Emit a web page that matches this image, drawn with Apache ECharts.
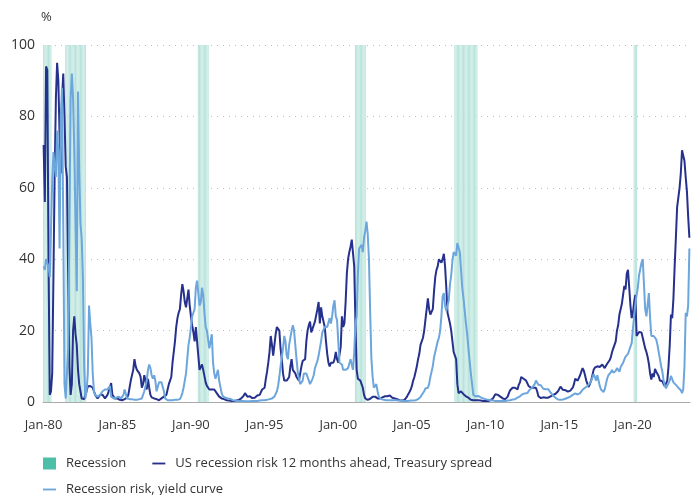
<!DOCTYPE html>
<html>
<head>
<meta charset="utf-8">
<script src="https://cdn.jsdelivr.net/npm/echarts@6/dist/echarts.min.js"></script>
<style>
  html, body { margin: 0; padding: 0; background: #fff; }
  #main { width: 691px; height: 495px; }
</style>
</head>
<body>
<div id="main"></div>
<script>
// monthly series, Jan 1980 onwards (one line per year)
var spreadRisk = [
  72, 56, 94, 93, 40, 2, 3, 8, 35, 64, 85, 95,
  90, 75, 64, 85, 92, 80, 66, 63, 35, 10, 2, 5,
  20, 24, 19, 16, 9, 5, 3, 1, 0.5, 0.8, 2, 3,
  4.4, 4, 4.5, 4, 4, 3, 2, 1.5, 1, 1.5, 2, 2.5,
  2, 1.5, 1, 1.5, 2, 3, 4, 5.3, 2, 1.5, 1, 1,
  1, 0.8, 0.6, 0.5, 0.5, 0.6, 0.8, 1, 1.2, 2, 4, 6,
  6, 9, 12, 10, 9, 8.5, 8, 7, 4, 5, 7.5, 6,
  3.5, 6.5, 4, 2, 1.3, 1, 1, 0.8, 0.8, 0.6, 0.5, 0.6,
  1, 1, 1.5, 2, 2, 3.5, 5, 6, 7, 11, 14, 17,
  21, 23.5, 25, 26, 30, 33, 31, 28, 26.5, 29, 31.5, 27,
  24, 21.5, 19.5, 17, 21, 17, 13, 9, 9.5, 10.5, 9, 9,
  5.5, 4.5, 4.4, 3.5, 4, 3.5, 3, 3.5, 3, 2.5, 2, 1.5,
  1.2, 1, 1, 0.8, 0.6, 0.5, 0.5, 0.4, 0.4, 0.3, 0.3, 0.3,
  0.3, 0.4, 0.5, 0.6, 0.8, 1, 1.3, 1.8, 2.5, 2, 1.5, 1.4,
  1.6, 1.3, 1.1, 1, 1.2, 1.6, 1.8, 1.9, 2, 2.5, 3.5, 4,
  4, 6.5, 8.5, 11, 14, 18.5, 16, 13, 16, 19, 21, 21,
  20, 15, 12, 8, 6, 5.8, 6, 6.5, 7, 10, 12, 9,
  8.5, 8, 7, 6.5, 6, 6.5, 10, 11.5, 11, 12, 17, 20,
  21.5, 22.5, 19.5, 20.5, 21.5, 22.5, 23, 26, 28, 22, 26.5, 24,
  24, 21, 17, 13.5, 11, 10, 11, 11, 11, 12, 14, 12,
  11, 10.5, 15.5, 24, 21, 22, 28, 36, 40, 42, 43.5, 45.5,
  46, 38, 22, 9, 6.5, 6, 6, 5.5, 4, 2, 1, 0.8,
  0.6, 0.7, 0.9, 1.2, 1.5, 1.8, 1.5, 1.3, 1, 0.9, 1, 1.2,
  1.3, 1.5, 1.6, 1.8, 1.6, 2, 1.8, 1.4, 1.2, 1, 1, 0.9,
  0.8, 0.6, 0.5, 0.4, 0.4, 0.4, 0.6, 0.9, 1.5, 2.2, 2.8, 3.5,
  4.5, 6, 7, 8.5, 10, 12, 13.5, 16, 17, 18, 20, 23,
  26, 29, 26, 24.5, 25, 26, 31, 35, 37, 38, 40, 40.5,
  39, 40, 41.5, 38, 32, 25, 23.5, 22, 20, 17, 14, 13,
  12, 5, 2.5, 2.8, 3, 2.5, 2.2, 2, 1.6, 1.5, 1.2, 0.8,
  0.6, 0.5, 0.5, 0.5, 0.5, 0.5, 0.5, 0.4, 0.4, 0.4, 0.3, 0.3,
  0.3, 0.3, 0.3, 0.4, 0.5, 0.7, 1, 1.6, 2.2, 2.5, 2, 1.5,
  1.5, 1.5, 1, 0.8, 0.8, 1, 1.5, 2.5, 3.3, 3.5, 4, 4.2,
  4, 4.4, 3.5, 4.8, 5.5, 7, 7.5, 6.5, 6.2, 6, 5.5, 4.5,
  5, 4, 4, 4, 4.4, 4, 3, 1.6, 1.2, 1.1, 1.2, 1.3,
  1.2, 1.2, 1.1, 1.2, 1.4, 1.6, 1.8, 2, 2.1, 2.3, 2.5, 3,
  3.5, 4.3, 4, 3.4, 3.8, 3.3, 3, 2.9, 3, 3.2, 3.5, 4,
  5, 6.5, 6, 6, 6.2, 7.5, 8.5, 9.5, 8.8, 7.5, 6, 5,
  4.2, 4.5, 6, 7.5, 9, 9.6, 9.8, 10, 9.5, 9.8, 10.2, 10.5,
  10.5, 9.5, 10, 10.7, 11, 11.7, 12.5, 14, 15, 16, 17, 20,
  21.5, 24.5, 26, 27.5, 30, 32.5, 31.5, 36, 37, 32, 27, 23.5,
  25, 28, 30, 18.5, 19, 19.6, 19.5, 19.5, 18, 16.5, 15, 14,
  12.6, 10.7, 8, 6.3, 8, 7, 9.3, 8.5, 8, 7.2, 6, 6,
  5.8, 5, 4.4, 4.5, 6, 10, 16, 24.5, 23.5, 29, 38, 46,
  54.5, 55, 60, 64, 70.5, 70, 67.5, 63, 59, 52, 46
];

var curveRisk = [
  38, 37, 40, 39, 38, 35, 48, 62, 70, 66, 63, 76,
  70, 43, 80, 88, 50, 5, 1, 1.5, 15, 50, 85, 92,
  85, 70, 50, 31, 87, 65, 50, 46, 35, 10, 1, 3,
  8, 27, 22, 18, 8, 3, 2, 1.5, 1.5, 2, 2, 2.5,
  3, 3, 3.5, 3, 3.5, 4, 4.5, 1.5, 1, 1, 1, 1.2,
  1, 1.5, 1, 1, 1, 2, 3.5, 4, 1, 0.8, 0.8, 1,
  0.8, 0.7, 0.6, 0.6, 0.6, 0.7, 0.8, 0.8, 1, 2, 3, 4.5,
  6, 9, 10.5, 9.5, 7.5, 6.5, 7.5, 6, 3, 3.5, 5.5, 5.8,
  5.5, 5.3, 3, 1, 0.6, 0.5, 0.5, 0.5, 0.5, 0.5, 0.5, 0.6,
  0.6, 0.6, 0.6, 0.8, 1.5, 2.5, 4, 6, 8, 12, 16, 18,
  21, 24, 25, 26, 32, 34, 34, 27, 28, 32, 30, 25,
  21, 20, 20, 15, 17, 19, 11, 8, 6.5, 6, 9, 6,
  4.2, 2.5, 1.6, 1.4, 1.2, 1, 1, 1, 0.9, 0.7, 0.5, 0.4,
  0.4, 0.4, 0.3, 0.3, 0.3, 0.3, 0.3, 0.2, 0.2, 0.2, 0.2, 0.2,
  0.2, 0.2, 0.3, 0.3, 0.3, 0.3, 0.3, 0.4, 0.4, 0.4, 0.5, 0.5,
  0.5, 0.6, 0.6, 0.7, 0.8, 0.9, 1, 1.1, 1.5, 2, 3, 4.5,
  7, 10, 12.5, 15, 18.5, 17, 13, 12, 16, 16.5, 20, 21.5,
  20, 16, 12, 8.5, 6.5, 5, 5.3, 6, 8, 8.5, 8, 7,
  6.5, 5, 5, 6.5, 7.5, 9.5, 10.5, 11.5, 13, 15, 17, 19.5,
  20, 21, 21, 21, 21, 23.5, 22, 24, 27, 28.5, 24, 23,
  17, 11, 11, 10.5, 9, 9, 9, 9.5, 9.5, 10, 12, 11.5,
  9, 14, 22, 24, 36, 43, 43.5, 44, 42, 46, 48, 50.5,
  47, 40, 25, 12, 7, 4, 4, 5, 3, 1.5, 1, 0.8,
  0.6, 0.6, 0.5, 0.5, 0.5, 0.5, 0.5, 0.5, 0.6, 0.5, 0.5, 0.5,
  0.4, 0.4, 0.4, 0.4, 0.3, 0.3, 0.3, 0.3, 0.3, 0.3, 0.3, 0.4,
  0.4, 0.4, 0.5, 0.5, 0.6, 0.8, 1, 1.4, 2, 2.5, 3, 3.8,
  3.5, 4, 5, 7, 8.5, 10, 12.5, 14, 15.5, 17, 18, 20,
  24, 29.5, 30.5, 27, 25.5, 26, 28.5, 33, 35.5, 39.5, 42, 42.5,
  41, 44.5, 45, 42, 37, 32, 29, 25.5, 22, 19, 15, 11.5,
  8, 5, 2, 1.8, 1.6, 1.8, 1.7, 1.5, 1.3, 1.2, 1, 1,
  0.8, 0.7, 0.6, 0.5, 0.5, 0.4, 0.4, 0.3, 0.3, 0.3, 0.3, 0.3,
  0.3, 0.3, 0.3, 0.3, 0.3, 0.3, 0.4, 0.4, 0.5, 0.6, 0.7, 0.8,
  0.8, 1, 1.2, 1.4, 1.6, 1.8, 2.2, 2.5, 2.4, 2.2, 2.5, 3,
  3.5, 3.8, 4, 4.5, 5, 6, 5.5, 4.8, 4.4, 4.7, 4.2, 3.7,
  3.4, 3.6, 3.8, 3.6, 3.2, 2.6, 2.2, 1.8, 1.5, 1.2, 0.9, 0.7,
  0.6, 0.6, 0.6, 0.7, 0.8, 0.9, 1, 1.2, 1.3, 1.5, 1.7, 2,
  2.2, 2.4, 2.3, 2.1, 2, 2.5, 3, 3.4, 3.6, 4, 4.3, 4.5,
  5, 5.3, 6, 6.8, 7.8, 7, 6, 7.5, 6, 4.5, 3.5, 3,
  2.8, 3.5, 5, 6.5, 7.5, 8, 8.3, 9, 8.2, 8.3, 8.7, 9.5,
  9, 8.5, 9.8, 9.5, 11, 11.5, 12.7, 13, 13.5, 14.5, 15.5, 16.5,
  20.5, 24, 27.5, 30, 32, 35.5, 35, 39, 40, 33, 26, 24,
  24, 30.5, 23.5, 18.5, 18, 18.5, 19, 17.5, 16, 14, 12, 10,
  8.5, 6, 4.5, 3.8, 4.6, 5, 6, 7.3, 7, 5.5, 5, 4.8,
  4.3, 4, 3.8, 3.3, 2.5, 3.5, 10, 25, 24, 27, 43
];

// NBER recessions [first month, last month]
var recessions = [
  ['1980-01', '1980-07'],
  ['1981-07', '1982-11'],
  ['1990-07', '1991-03'],
  ['2001-03', '2001-11'],
  ['2007-12', '2009-06'],
  ['2020-02', '2020-04']
];

var startYear = 1980;
var monthNames = ['Jan','Feb','Mar','Apr','May','Jun','Jul','Aug','Sep','Oct','Nov','Dec'];
var yTicks = [0, 20, 40, 60, 80, 100];

var nameRecession = 'Recession';
var nameSpread = 'US recession risk 12 months ahead, Treasury spread';
var nameCurve = 'Recession risk, yield curve';

// category labels
var months = [];
for (var i = 0; i < spreadRisk.length; i++) {
  var y = startYear + Math.floor(i / 12);
  months.push(monthNames[i % 12] + '-' + String(y).slice(2));
}

function monthIndex(s) {
  var p = s.split('-');
  return (parseInt(p[0], 10) - startYear) * 12 + parseInt(p[1], 10) - 1;
}

var recessionBars = months.map(function () { return '-'; });
recessions.forEach(function (r) {
  for (var k = monthIndex(r[0]); k <= monthIndex(r[1]); k++) recessionBars[k] = 100;
});

var showTick = function (idx) { return idx % 60 === 0; };
var lineIcon = 'path://M0,0 L14,0 L14,2 L0,2 Z';

var myChart = echarts.init(document.getElementById('main'));

var legendText = { color: '#333', fontSize: 13, padding: [0, 0, 0, 5] };

var option = {
  backgroundColor: '#fff',
  animation: false,
  textStyle: { fontFamily: '"Open Sans", "Noto Sans", sans-serif' },
  grid: { left: 43, right: 1, top: 45, bottom: 93, containLabel: false },
  legend: [
    {
      left: 43, top: 457, padding: 0,
      itemWidth: 13, itemHeight: 12, itemGap: 26,
      symbolKeepAspect: true,
      textStyle: legendText,
      data: [
        { name: nameRecession, icon: 'rect', itemStyle: { color: '#4dbfa8', opacity: 1 } },
        { name: nameSpread, icon: lineIcon }
      ]
    },
    {
      left: 43, top: 483, padding: 0,
      itemWidth: 13, itemHeight: 12,
      symbolKeepAspect: true,
      textStyle: legendText,
      data: [{ name: nameCurve, icon: lineIcon }]
    }
  ],
  xAxis: {
    type: 'category',
    data: months,
    boundaryGap: true,
    axisLine: { lineStyle: { color: '#aaa', width: 1 } },
    axisTick: { interval: showTick, alignWithLabel: true, length: 6, lineStyle: { color: '#aaa' } },
    axisLabel: { interval: showTick, color: '#333', fontSize: 13, margin: 17 },
    splitLine: { show: false }
  },
  yAxis: {
    type: 'value',
    min: yTicks[0],
    max: yTicks[yTicks.length - 1],
    interval: 20,
    name: '%',
    nameLocation: 'end',
    nameGap: 21,
    nameTextStyle: { color: '#333', fontSize: 13, align: 'left', padding: [0, 0, 0, -2] },
    axisLine: { show: false },
    axisTick: { show: false },
    axisLabel: { color: '#333', fontSize: 14, margin: 8 },
    splitLine: { lineStyle: { color: '#bbb', type: [1, 5], width: 1 } }
  },
  series: [
    {
      name: nameRecession,
      type: 'bar',
      data: recessionBars,
      barCategoryGap: '25%',
      itemStyle: { color: '#b6e3da' },
      silent: true
    },
    {
      name: nameSpread,
      type: 'line',
      data: spreadRisk,
      symbol: 'none',
      lineStyle: { color: '#25318c', width: 2 },
      itemStyle: { color: '#25318c' }
    },
    {
      name: nameCurve,
      type: 'line',
      data: curveRisk,
      symbol: 'none',
      lineStyle: { color: '#6ca6dc', width: 2 },
      itemStyle: { color: '#6ca6dc' }
    }
  ]
};

myChart.setOption(option);
window.onresize = myChart.resize;
</script>
</body>
</html>
